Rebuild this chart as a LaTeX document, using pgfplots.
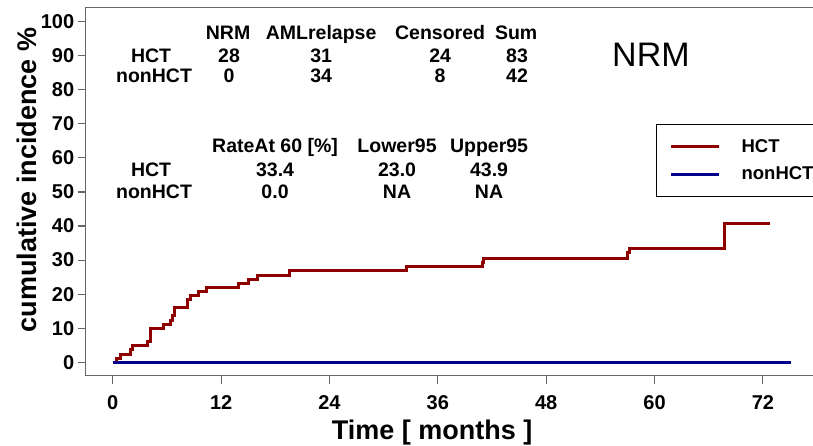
\documentclass[border=0pt]{standalone}
\usepackage{fontspec}
\setmainfont{Liberation Sans}
\usepackage{pgfplots}
\pgfplotsset{compat=1.18}
\definecolor{hctred}{HTML}{8E0000}
\definecolor{nonblue}{HTML}{00008B}
\newcommand{\tf}{\fontsize{19.5}{23}\selectfont\bfseries}
\begin{document}
\begin{tikzpicture}[x=1pt,y=1pt]
\path[use as bounding box] (0,0) rectangle (813,446);
\clip (0,0) rectangle (813,446);
\begin{axis}[
  at={(85.7pt,70.3pt)}, anchor=south west,
  scale only axis, width=732.3pt, height=368.4pt,
  xmin=-3.0, xmax=78.1, ymin=-3.93, ymax=104.2,
  xtick={0,12,24,36,48,60,72}, ytick={0,10,20,30,40,50,60,70,80,90,100},
  tick pos=left, tick align=outside, major tick length=8pt,
  axis line style={black!60, line width=1.1pt},
  every tick/.style={black!60, line width=1.1pt},
  ticklabel style={font=\fontsize{20}{24}\selectfont\bfseries},
  xticklabel style={yshift=-8pt},
  /pgf/number format/assume math mode=true,
  xlabel={Time [ months ]}, ylabel={cumulative incidence \%},
  xlabel style={font=\fontsize{27}{32}\selectfont\bfseries, at={(rel axis cs:0.473,-0.153)}, anchor=center},
  ylabel style={font=\fontsize{27}{32}\selectfont\bfseries, at={(rel axis cs:-0.0802,0.531)}, anchor=center},
  legend style={at={(axis cs:60.17,69.97)}, anchor=north west, draw=black, line width=1pt,
    font=\fontsize{18.5}{22}\selectfont\bfseries, inner xsep=13pt, inner ysep=13pt, row sep=9pt},
  legend cell align=left,
  legend image code/.code={\draw[#1, line width=3pt] (0pt,0pt) -- (48pt,0pt); \path (67pt,0pt);},
]
\addplot[const plot, hctred, line width=3pt] coordinates {
(0,0) (0.44,1.1) (0.9,2.4) (2.0,3.8) (2.2,5.0) (3.8,6.2) (4.2,9.8) (5.6,11.2)
(6.4,12.4) (6.6,13.6) (6.8,16.0) (8.3,18.4) (8.6,19.7) (9.5,20.8) (10.4,22.0)
(13.9,23.2) (15.0,24.4) (16.0,25.6) (19.6,26.8) (32.5,28.0) (40.9,29.3) (41.1,30.6)
(57.0,32.1) (57.2,33.4) (67.7,40.6) (72.8,40.6)};
\addlegendentry{HCT}
\addplot[const plot, nonblue, line width=3pt] coordinates {(0,0) (75.1,0)};
\addlegendentry{nonHCT}
% top table
\node[anchor=base, font=\tf] at (axis cs:12.77,94.6) {NRM};
\node[anchor=base, font=\tf] at (axis cs:23.07,94.6) {AMLrelapse};
\node[anchor=base, font=\tf] at (axis cs:36.25,94.6) {Censored};
\node[anchor=base, font=\tf] at (axis cs:44.67,94.6) {Sum};
\node[anchor=base, font=\tf] at (axis cs:4.24,87.9) {HCT};
\node[anchor=base, font=\tf] at (axis cs:12.88,87.9) {28};
\node[anchor=base, font=\tf] at (axis cs:23.07,87.9) {31};
\node[anchor=base, font=\tf] at (axis cs:36.25,87.9) {24};
\node[anchor=base, font=\tf] at (axis cs:44.77,87.9) {83};
\node[anchor=base, font=\tf] at (axis cs:4.57,82.0) {nonHCT};
\node[anchor=base, font=\tf] at (axis cs:12.88,82.0) {0};
\node[anchor=base, font=\tf] at (axis cs:23.07,82.0) {34};
\node[anchor=base, font=\tf] at (axis cs:36.25,82.0) {8};
\node[anchor=base, font=\tf] at (axis cs:44.77,82.0) {42};
% title
\node[anchor=center, font=\fontsize{34}{40}\selectfont] at (axis cs:59.6,90.2) {NRM};
% second table
\node[anchor=base, font=\tf] at (axis cs:17.97,61.6) {RateAt 60 [\%]};
\node[anchor=base, font=\tf] at (axis cs:31.48,61.6) {Lower95};
\node[anchor=base, font=\tf] at (axis cs:41.67,61.6) {Upper95};
\node[anchor=base, font=\tf] at (axis cs:4.24,54.4) {HCT};
\node[anchor=base, font=\tf] at (axis cs:17.97,54.4) {33.4};
\node[anchor=base, font=\tf] at (axis cs:31.48,54.4) {23.0};
\node[anchor=base, font=\tf] at (axis cs:41.67,54.4) {43.9};
\node[anchor=base, font=\tf] at (axis cs:4.57,48.0) {nonHCT};
\node[anchor=base, font=\tf] at (axis cs:17.97,48.0) {0.0};
\node[anchor=base, font=\tf] at (axis cs:31.48,48.0) {NA};
\node[anchor=base, font=\tf] at (axis cs:41.67,48.0) {NA};
\end{axis}
\end{tikzpicture}
\end{document}
